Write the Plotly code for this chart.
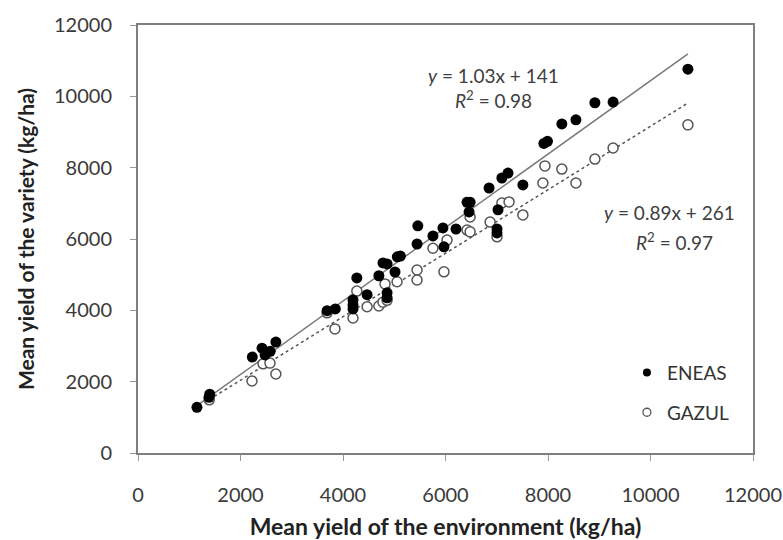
import plotly.graph_objects as go

# ENEAS (filled circles)
eneas_x = [1150, 1385, 1400, 2230, 2420, 2480, 2580, 2690, 3690, 3850,
           4195, 4195, 4195, 4270, 4470, 4700, 4780, 4860, 4860, 4860,
           5015, 5060, 5120, 5445, 5460, 5755, 5970, 5950, 6205, 6420,
           6480, 6460, 6850, 7025, 7005, 7005, 7100, 7220, 7510, 7920,
           7990, 8270, 8545, 8915, 9270, 10730]
eneas_y = [1280, 1560, 1650, 2690, 2940, 2750, 2850, 3110, 3990, 4040,
           4040, 4150, 4290, 4910, 4440, 4970, 5330, 5300, 4490, 4350,
           5075, 5500, 5520, 5860, 6370, 6085, 5780, 6310, 6280, 7030,
           7030, 6760, 7430, 6820, 6280, 6170, 7710, 7850, 7515, 8680,
           8740, 9225, 9340, 9820, 9840, 10760]

# GAZUL (open circles)
gazul_x = [1390, 2224, 2440, 2575, 2690, 3690, 3843, 4195, 4270, 4470,
           4700, 4780, 4820, 4860, 5055, 5445, 5445, 5755, 5970, 6030,
           6420, 6480, 6480, 6870, 7005, 7100, 7240, 7510, 7900, 7940,
           8270, 8545, 8915, 9270, 10730]
gazul_y = [1490, 2020, 2500, 2520, 2215, 3930, 3480, 3785, 4540, 4100,
           4120, 4230, 4740, 4280, 4800, 4850, 5130, 5740, 5080, 5970,
           6250, 6620, 6200, 6475, 6060, 7010, 7040, 6675, 7570, 8050,
           7960, 7570, 8240, 8550, 9200]

# Regression coefficients (from the chart)
eneas_slope, eneas_icpt = 1.03, 141
gazul_slope, gazul_icpt = 0.89, 261

tick_vals = [0, 2000, 4000, 6000, 8000, 10000, 12000]
tick_text = ["0", "2000", "4000", "6000", "8000", "10000", "12000"]

FONT = "Lato, 'Open Sans', sans-serif"

ex_line = [min(eneas_x), max(eneas_x)]
ey_line = [eneas_slope * v + eneas_icpt for v in ex_line]
gx_line = [min(gazul_x), max(gazul_x)]
gy_line = [gazul_slope * v + gazul_icpt for v in gx_line]

fig = go.Figure()

fig.add_trace(go.Scatter(x=ex_line, y=ey_line, mode="lines",
                         line=dict(color="#7a7a7a", width=1.5),
                         showlegend=False, hoverinfo="skip"))
fig.add_trace(go.Scatter(x=gx_line, y=gy_line, mode="lines",
                         line=dict(color="#555555", width=1.5, dash="3px,3px"),
                         showlegend=False, hoverinfo="skip"))

fig.add_trace(go.Scatter(x=gazul_x, y=gazul_y, mode="markers", name="GAZUL",
                         marker=dict(symbol="circle", size=10, color="white",
                                     line=dict(color="#555555", width=1.5)),
                         showlegend=False))
fig.add_trace(go.Scatter(x=eneas_x, y=eneas_y, mode="markers", name="ENEAS",
                         marker=dict(symbol="circle", size=11, color="black",
                                     line=dict(color="black", width=0)),
                         showlegend=False))

# legend entries
fig.add_trace(go.Scatter(x=[None], y=[None], mode="markers", name="ENEAS",
                         legendgroup="a",
                         marker=dict(symbol="circle", size=8, color="black")))
fig.add_trace(go.Scatter(x=[None], y=[None], mode="markers", name="GAZUL",
                         legendgroup="b",
                         marker=dict(symbol="circle", size=8, color="white",
                                     line=dict(color="#555555", width=1.3))))

ann_font = dict(family=FONT, size=19, color="#404040")
fig.add_annotation(x=6927, y=10571, text="<i>y</i> = 1.03x + 141",
                   showarrow=False, font=ann_font)
fig.add_annotation(x=6927, y=9898, text="<i>R</i><sup>2</sup> = 0.98",
                   showarrow=False, font=ann_font)
fig.add_annotation(x=10380, y=6730, text="<i>y</i> = 0.89x + 261",
                   showarrow=False, font=ann_font)
fig.add_annotation(x=10477, y=5917, text="<i>R</i><sup>2</sup> = 0.97",
                   showarrow=False, font=ann_font)

axis_common = dict(
    range=[0, 12000], tickvals=tick_vals, ticktext=tick_text,
    showgrid=False, zeroline=False, showline=True, mirror=True,
    linecolor="#7f7f7f", linewidth=2, ticks="outside", ticklen=6,
    tickcolor="#9a9a9a", tickwidth=1, automargin=False,
    tickfont=dict(family=FONT, size=20, color="#3a3a3a"),
)

fig.update_layout(
    width=783, height=540,
    margin=dict(l=138, r=30, t=25, b=87),
    plot_bgcolor="white", paper_bgcolor="white",
    xaxis=dict(**axis_common, ticklabelstandoff=17,
               title=dict(text="<b>Mean yield of the environment (kg/ha)</b>",
                          font=dict(family=FONT, size=23, color="#222222"),
                          standoff=18)),
    yaxis=dict(**axis_common, ticklabelstandoff=14,
               title=dict(text="<b>Mean yield of the variety (kg/ha)</b>",
                          font=dict(family=FONT, size=21, color="#222222"),
                          standoff=14)),
    legend=dict(x=0.795, y=0.232, xanchor="left", yanchor="top",
                bgcolor="rgba(0,0,0,0)", tracegroupgap=12,
                font=dict(family=FONT, size=19, color="#333333"),
                itemwidth=30),
    showlegend=True,
)

fig.write_html("out.html")
